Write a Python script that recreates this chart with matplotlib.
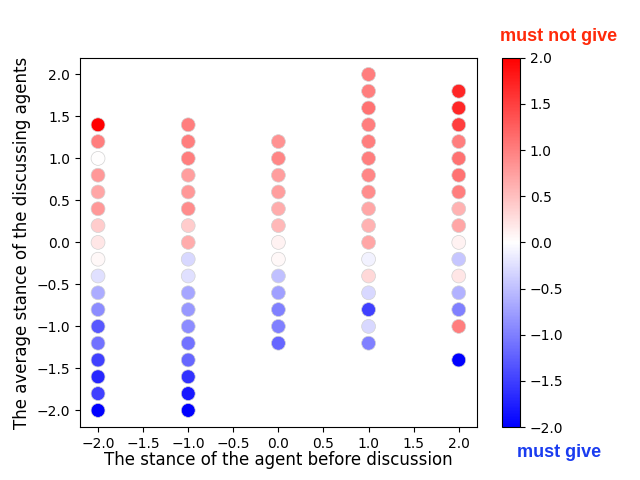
import matplotlib
matplotlib.use('Agg')
import matplotlib.pyplot as plt

# stance values before discussion and the average stance of the discussing agents
ys_m2 = [1.4, 1.2, 1.0, 0.8, 0.6, 0.4, 0.2, 0.0, -0.2, -0.4, -0.6, -0.8, -1.0, -1.2, -1.4, -1.6, -1.8, -2.0]
cs_m2 = [2.0, 1.0, 0.0, 0.8, 0.7, 0.8, 0.4, 0.2, 0.05, -0.25, -0.65, -0.9, -1.3, -1.1, -1.5, -1.7, -1.5, -2.0]

ys_m1 = [1.4, 1.2, 1.0, 0.8, 0.6, 0.4, 0.2, 0.0, -0.2, -0.4, -0.6, -0.8, -1.0, -1.2, -1.4, -1.6, -1.8, -2.0]
cs_m1 = [1.0, 1.0, 1.0, 0.75, 0.8, 0.9, 0.4, 0.65, -0.3, -0.25, -0.7, -0.8, -0.9, -1.1, -1.2, -1.6, -1.8, -2.0]

ys_0 = [1.2, 1.0, 0.8, 0.6, 0.4, 0.2, 0.0, -0.2, -0.4, -0.6, -0.8, -1.0, -1.2]
cs_0 = [0.85, 0.95, 0.75, 0.75, 0.65, 0.55, 0.1, 0.05, -0.5, -0.75, -1.0, -1.0, -1.2]

ys_1 = [2.0, 1.8, 1.6, 1.4, 1.2, 1.0, 0.8, 0.6, 0.4, 0.2, 0.0, -0.2, -0.4, -0.6, -0.8, -1.0, -1.2]
cs_1 = [1.0, 1.0, 1.1, 1.0, 1.0, 1.0, 0.95, 0.9, 0.7, 0.6, 0.7, -0.1, 0.3, -0.3, -1.5, -0.3, -1.0]

ys_2 = [1.8, 1.6, 1.4, 1.2, 1.0, 0.8, 0.6, 0.4, 0.2, 0.0, -0.2, -0.4, -0.6, -0.8, -1.0, -1.4]
cs_2 = [1.7, 1.7, 1.5, 1.0, 1.1, 1.1, 1.0, 0.6, 0.7, 0.1, -0.45, 0.2, -0.6, -1.0, 1.0, -2.0]

x = []
y = []
c = []
for stance, ys, cs in [(-2, ys_m2, cs_m2), (-1, ys_m1, cs_m1), (0, ys_0, cs_0),
                       (1, ys_1, cs_1), (2, ys_2, cs_2)]:
    x += [stance] * len(ys)
    y += ys
    c += cs

fig = plt.figure(figsize=(6.4, 4.8), dpi=100)
sc = plt.scatter(x, y, c=c, cmap='bwr', vmin=-2, vmax=2, s=100,
                 edgecolors='lightgray', linewidths=0.5)
plt.xlabel('The stance of the agent before discussion', fontsize=12, labelpad=0)
plt.ylabel('The average stance of the discussing agents', fontsize=12)
plt.xticks([-2.0, -1.5, -1.0, -0.5, 0.0, 0.5, 1.0, 1.5, 2.0])
plt.yticks([-2.0, -1.5, -1.0, -0.5, 0.0, 0.5, 1.0, 1.5, 2.0])

cbar = plt.colorbar(sc)
fig.text(0.873, 0.923, 'must not give', ha='center', va='center',
         color='#ff2a0a', fontsize=13, fontweight='bold', family='Liberation Sans')
fig.text(0.873, 0.058, 'must give', ha='center', va='center',
         color='#1a3cf0', fontsize=13, fontweight='bold', family='Liberation Sans')

plt.savefig('out.png')
